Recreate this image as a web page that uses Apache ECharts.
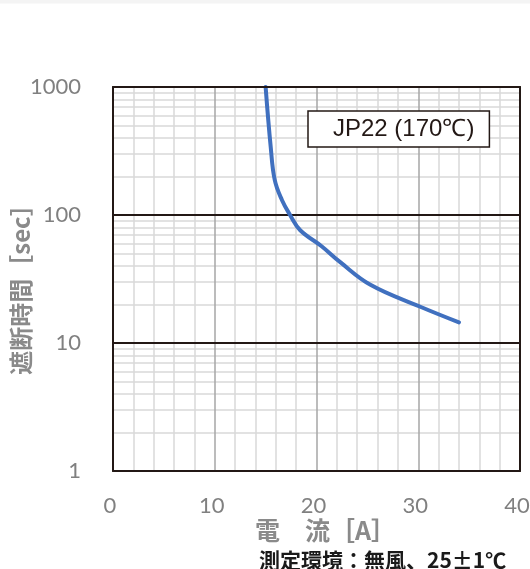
<!DOCTYPE html>
<html>
<head>
<meta charset="utf-8">
<script src="https://cdn.jsdelivr.net/npm/echarts@6/dist/echarts.min.js"></script>
<style>
html,body{margin:0;padding:0;background:#fff;}
#c{width:530px;height:569px;}
</style>
</head>
<body>
<div id="c"></div>
<script>
// Data
const seriesName = 'JP22 (170℃)';
const currentA = [15, 15.5, 15.9, 16.6, 17.4, 18.4, 20.5, 22.3, 25.3, 30.2, 34];
const timeSec = [1000, 340, 187, 131, 100, 76, 57, 43, 28.5, 19.2, 14.5];
const xMinorGrid = [2, 4, 6, 8, 12, 14, 16, 18, 22, 24, 26, 28, 32, 34, 36, 38];
const xMajorGrid = [10, 20, 30];
const yMinorGrid = [2, 3, 4, 5, 6, 7, 8, 9, 20, 30, 40, 50, 60, 70, 80, 90, 200, 300, 400, 500, 600, 700, 800, 900];
const yMajorGrid = [10, 100];
const xAxisTitle = '電　流［A］';
const yAxisTitle = '遮断時間［sec］';
const noteText = '測定環境：無風、25±1℃';

const chart = echarts.init(document.getElementById('c'), null, {renderer: 'canvas'});

function gridSeries(lines, key, color, width, z) {
  return {
    type: 'line', data: [], z: z, silent: true, animation: false,
    markLine: {
      silent: true, symbol: 'none', animation: false,
      label: {show: false},
      lineStyle: {color: color, width: width, type: 'solid'},
      emphasis: {disabled: true},
      data: lines.map(v => ({[key]: v}))
    }
  };
}

const labelStyle = {fontFamily: 'Lato', fontSize: 22, color: '#808080'};
const nameStyle = {fontFamily: 'Noto Sans CJK JP', fontWeight: 'bold', color: '#8a8a8a'};

chart.setOption({
  animation: false,
  graphic: [{type: 'rect', z: -1, shape: {x: 0, y: 0, width: 530, height: 3.5}, style: {fill: '#f4f4f4'}}],
  title: {
    text: noteText, left: 254, top: 545,
    textStyle: {fontFamily: 'Noto Sans CJK JP', fontSize: 21, fontWeight: 'bold', color: '#1a1a1a'}
  },
  legend: {
    data: [{name: seriesName}],
    left: 308, top: 111, z: 20,
    itemWidth: 0, itemHeight: 0, itemGap: 0,
    padding: [6, 15, 6, 19],
    borderColor: '#231815', borderWidth: 1.5,
    backgroundColor: '#fff',
    selectedMode: false,
    textStyle: {fontFamily: 'Liberation Sans', fontSize: 24, color: '#231815'}
  },
  grid: {left: 113, top: 87, right: 10, bottom: 98, containLabel: false, outerBoundsMode: 'none'},
  xAxis: [{
    type: 'value', min: 0, max: 40, interval: 10, z: 10,
    axisLine: {show: true, lineStyle: {color: '#231815', width: 2}},
    axisTick: {show: false},
    splitLine: {show: false},
    axisLabel: Object.assign({margin: 24, padding: [0, 6, 0, 0]}, labelStyle),
    name: xAxisTitle, nameLocation: 'middle', nameGap: 47, nameMoveOverlap: false,
    nameTextStyle: Object.assign({fontSize: 25, padding: [0, 0, 0, 18]}, nameStyle)
  }, {
    type: 'value', min: 0, max: 40, position: 'top', z: 10,
    axisLine: {show: true, onZero: false, lineStyle: {color: '#231815', width: 2}},
    axisTick: {show: false}, axisLabel: {show: false}, splitLine: {show: false}
  }],
  yAxis: [{
    type: 'log', logBase: 10, min: 1, max: 1000, z: 10,
    axisLine: {show: true, lineStyle: {color: '#231815', width: 2}},
    axisTick: {show: false},
    splitLine: {show: false},
    axisLabel: Object.assign({margin: 32, formatter: v => String(v)}, labelStyle),
    name: yAxisTitle, nameLocation: 'middle', nameGap: 80, nameRotate: 90, nameMoveOverlap: false,
    nameTextStyle: Object.assign({fontSize: 24, padding: [0, 9, 0, 0]}, nameStyle)
  }, {
    type: 'log', logBase: 10, min: 1, max: 1000, position: 'right', z: 10,
    axisLine: {show: true, onZero: false, lineStyle: {color: '#231815', width: 2}},
    axisTick: {show: false}, axisLabel: {show: false}, splitLine: {show: false}
  }],
  series: [
    gridSeries(xMinorGrid, 'xAxis', '#d9d9d9', 1.5, 1),
    gridSeries(yMinorGrid, 'yAxis', '#d9d9d9', 1.5, 1),
    gridSeries(xMajorGrid, 'xAxis', '#a6a6a6', 1.5, 2),
    gridSeries(yMajorGrid, 'yAxis', '#231815', 2, 3),
    {
      name: seriesName,
      type: 'line', z: 5,
      data: currentA.map((x, i) => [x, timeSec[i]]),
      smooth: 0.4,
      symbol: 'none', showSymbol: false,
      lineStyle: {color: '#4070bf', width: 4, cap: 'round'},
      itemStyle: {color: '#4070bf'}
    }
  ]
});
</script>
</body>
</html>
